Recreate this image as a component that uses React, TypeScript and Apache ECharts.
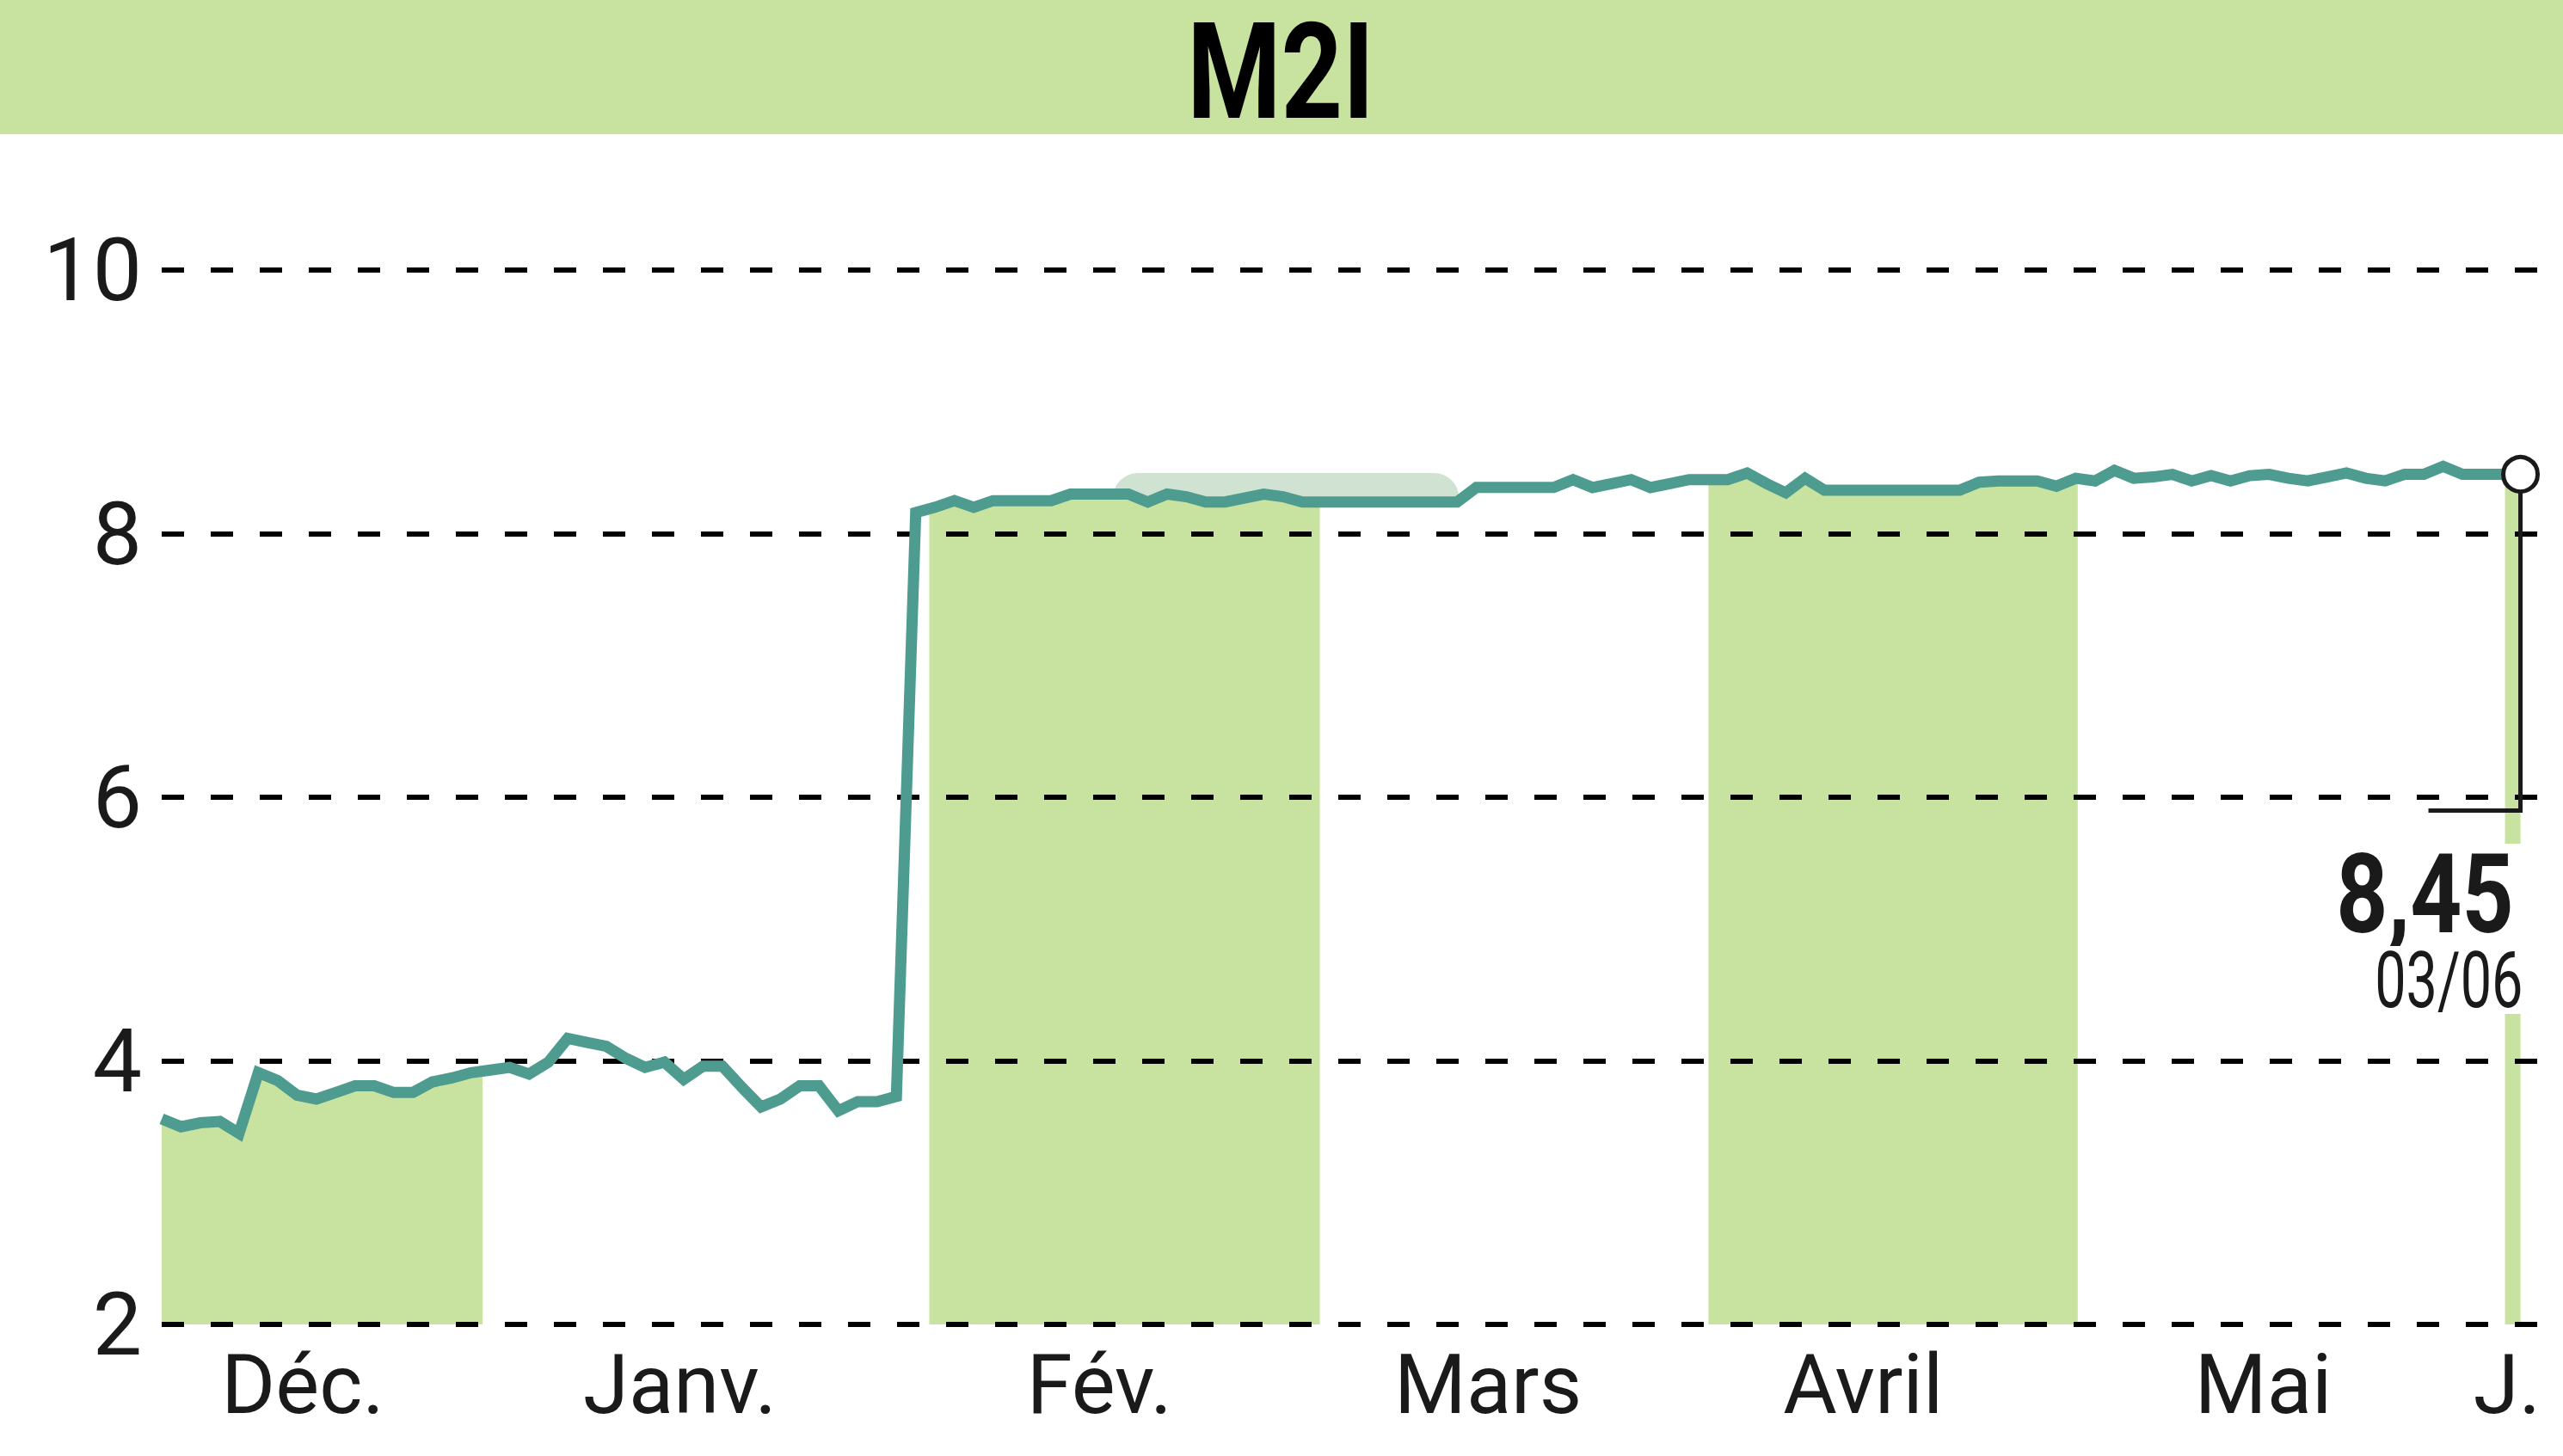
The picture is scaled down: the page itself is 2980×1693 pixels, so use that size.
import React, { useEffect, useRef } from "react";
import * as echarts from "echarts";

// ---- data ----
const title = "M2I";
const prices = [
  3.56, 3.5, 3.53, 3.54, 3.45, 3.91, 3.85, 3.74, 3.71, 3.76, 3.81, 3.81, 3.76, 3.76, 3.84, 3.87, 3.91,
  3.93, 3.95, 3.9, 3.99, 4.17, 4.14, 4.11, 4.02, 3.95, 3.99, 3.86, 3.96, 3.96, 3.8, 3.65, 3.71, 3.81,
  3.81, 3.62, 3.69, 3.69, 3.73,
  8.16, 8.2, 8.25, 8.2, 8.25, 8.25, 8.25, 8.25, 8.3, 8.3, 8.3, 8.3, 8.24, 8.3, 8.28, 8.24, 8.24, 8.27,
  8.3, 8.28, 8.24,
  8.24, 8.24, 8.24, 8.24, 8.24, 8.24, 8.24, 8.24, 8.35, 8.35, 8.35, 8.35, 8.35, 8.41, 8.35, 8.38, 8.41,
  8.35, 8.38, 8.41,
  8.41, 8.41, 8.46, 8.38, 8.31, 8.42, 8.33, 8.33, 8.33, 8.33, 8.33, 8.33, 8.33, 8.33, 8.39, 8.4, 8.4,
  8.4, 8.36,
  8.42, 8.4, 8.48, 8.42, 8.43, 8.45, 8.4, 8.44, 8.4, 8.44, 8.45, 8.42, 8.4, 8.43, 8.46, 8.42, 8.4, 8.45,
  8.45, 8.51, 8.45, 8.45,
  8.45, 8.45,
];
const monthNames = ["Déc.", "Janv.", "Fév.", "Mars", "Avril", "Mai", "J."];
const monthLabelPos = [7.3, 26.8, 48.5, 68.6, 88.0, 108.7, 121.3];
// month boundaries, in trading-day index units
const monthEdges = [0, 16.6, 39.7, 59.9, 80.0, 99.1, 121.2, 122];
const monthShaded = [true, false, true, false, true, false, true];
const yTicks = [2, 4, 6, 8, 10];
const lastValueLabel = "8,45";
const lastDateLabel = "03/06";
const highZone = [49.2, 67.1]; // faint "high" zone above the line
const highZoneTop = 8.46;

const GREEN = "#c8e29f";
const TEAL = "#4e9b8f";
const INK = "#1a1a1a";
const FONT = "Roboto, 'Noto Sans', sans-serif";

export default function App() {
  const ref = useRef<HTMLDivElement>(null);

  useEffect(() => {
    if (!ref.current) return;
    const chart = echarts.init(ref.current, null, { renderer: "svg" });
    const lastIdx = prices.length - 1;
    const lastVal = prices[lastIdx];
    const yMin = yTicks[0];
    const yMax = yTicks[yTicks.length - 1];

    const option: any = {
      animation: false,
      backgroundColor: "#ffffff",
      grid: { left: 188, right: 0, top: 314, bottom: 153, containLabel: false },
      xAxis: {
        type: "value",
        min: 0,
        max: 124.2,
        axisLine: { show: false },
        axisTick: { show: false },
        splitLine: { show: false },
        axisLabel: {
          customValues: monthLabelPos,
          formatter: (v: number) => {
            const i = monthLabelPos.findIndex((p) => Math.abs(p - v) < 1e-6);
            return i >= 0 ? monthNames[i] : "";
          },
          color: INK,
          fontFamily: FONT,
          fontSize: 96,
          margin: 70,
          verticalAlign: "middle",
          lineHeight: 96,
        },
      },
      yAxis: {
        type: "value",
        min: yMin,
        max: yMax,
        interval: 2,
        z: 3,
        axisLine: { show: false },
        axisTick: { show: false },
        axisLabel: {
          color: INK,
          fontFamily: FONT,
          fontSize: 102,
          margin: 23,
        },
        splitLine: {
          show: true,
          lineStyle: { color: "#000", width: 6, type: [26, 31] },
        },
      },
      series: [
        {
          type: "line",
          name: "area",
          z: 1,
          data: prices.map((v, i) => [i, v]),
          symbol: "none",
          lineStyle: { width: 0 },
          areaStyle: { color: GREEN, opacity: 1 },
          silent: true,
        },
        {
          type: "line",
          name: "price",
          z: 4,
          data: prices.map((v, i) => [i, v]),
          symbol: "none",
          lineStyle: { width: 13, color: TEAL, join: "miter", cap: "butt" },
          silent: true,
        },
      ],
    };
    chart.setOption(option);

    const toPx = (x: number, y: number) =>
      chart.convertToPixel({ gridIndex: 0 }, [x, y]) as number[];

    const masks: any[] = [];
    for (let m = 0; m < monthShaded.length; m++) {
      if (monthShaded[m]) continue;
      const [x0, y0] = toPx(monthEdges[m], yMax);
      const [x1, y1] = toPx(monthEdges[m + 1], yMin);
      masks.push({
        type: "rect",
        z: 2,
        silent: true,
        shape: { x: x0, y: y0, width: x1 - x0, height: y1 - y0 + 2 },
        style: { fill: "#ffffff" },
      });
    }

    const [px, py] = toPx(lastIdx, lastVal);
    const [gx0, gy0] = toPx(highZone[0], highZoneTop);
    const [gx1, gy1] = toPx(highZone[1], 8.27);

    chart.setOption({
      graphic: [
        ...masks,
        {
          type: "rect",
          z: 2,
          z2: 5,
          silent: true,
          shape: { x: gx0, y: gy0, width: gx1 - gx0, height: gy1 - gy0, r: [40, 40, 0, 0] },
          style: { fill: "#d0e3d2" },
        },
        {
          type: "rect",
          z: 10,
          shape: { x: 0, y: 0, width: 2980, height: 156 },
          style: { fill: GREEN },
        },
        {
          type: "text",
          z: 11,
          x: 1489,
          y: 83,
          scaleX: 0.8,
          style: {
            text: title,
            fill: "#000",
            fontFamily: FONT,
            fontWeight: "bold",
            fontSize: 156,
            align: "center",
            verticalAlign: "middle",
          },
        },
        {
          type: "polyline",
          z: 10,
          shape: {
            points: [
              [px, py + 20],
              [px, py + 391],
              [px - 107, py + 391],
            ],
          },
          style: { stroke: INK, lineWidth: 5, fill: null },
        },
        {
          type: "circle",
          z: 11,
          shape: { cx: px, cy: py, r: 20 },
          style: { fill: "#ffffff", stroke: INK, lineWidth: 5 },
        },
        {
          type: "text",
          z: 11,
          x: px + 6,
          y: py + 489,
          scaleX: 0.82,
          style: {
            text: lastValueLabel,
            fill: INK,
            fontFamily: FONT,
            fontWeight: "bold",
            fontSize: 128,
            lineHeight: 119,
            align: "right",
            verticalAlign: "middle",
            backgroundColor: "#ffffff",
            padding: [0, 17, 0, 8],
          },
        },
        {
          type: "text",
          z: 11,
          x: px + 3,
          y: py + 588,
          scaleX: 0.72,
          style: {
            text: lastDateLabel,
            fill: INK,
            fontFamily: FONT,
            fontSize: 90,
            lineHeight: 79,
            align: "right",
            verticalAlign: "middle",
            backgroundColor: "#ffffff",
            padding: [0, 0, 0, 6],
          },
        },
      ],
    });

    return () => chart.dispose();
  }, []);

  return (
    <div
      ref={ref}
      style={{ position: "absolute", left: 0, top: 0, width: 2980, height: 1693, background: "#fff" }}
    />
  );
}
